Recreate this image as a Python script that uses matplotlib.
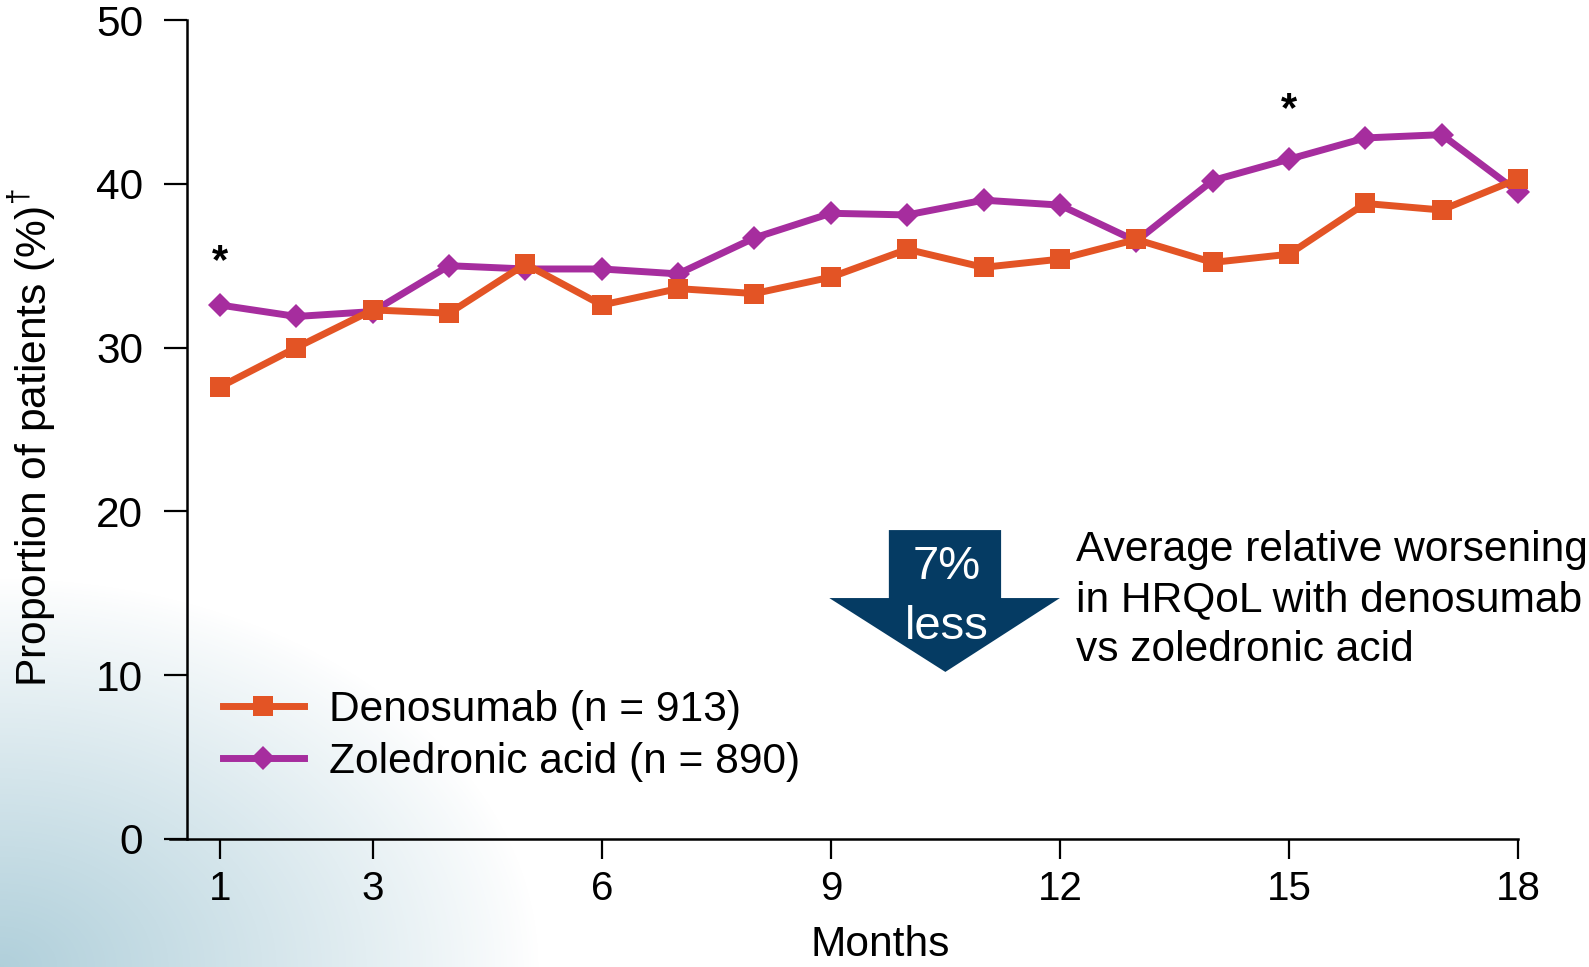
import numpy as np
import matplotlib
matplotlib.use("Agg")
import matplotlib.pyplot as plt
from matplotlib.patches import Polygon

plt.rcParams['font.family'] = ['Liberation Sans', 'DejaVu Sans']
plt.rcParams['mathtext.fontset'] = 'custom'
plt.rcParams['mathtext.rm'] = 'Liberation Sans'

# proportion of patients with worsening HRQoL, by month
months = list(range(1, 19))
denosumab = [27.6, 30.0, 32.3, 32.1, 35.1, 32.6, 33.6, 33.3, 34.3,
             36.0, 34.9, 35.4, 36.6, 35.2, 35.7, 38.8, 38.4, 40.3]
zoledronic = [32.6, 31.9, 32.2, 35.0, 34.8, 34.8, 34.5, 36.7, 38.2,
              38.1, 39.0, 38.7, 36.5, 40.2, 41.5, 42.8, 43.0, 39.5]
den_label = "Denosumab (n = 913)"
zol_label = "Zoledronic acid (n = 890)"
x_ticks = [1, 3, 6, 9, 12, 15, 18]
y_ticks = [0, 10, 20, 30, 40, 50]
# months flagged as significant, and where the star sits
sig_months = [1, 15]
sig_y = [35.2, 44.5]

ORANGE = "#e35425"
PURPLE = "#a62d9e"
NAVY = "#053b63"
FS = 30.6

W, H = 1589, 967
fig = plt.figure(figsize=(W / 100, H / 100), dpi=100)
fig.patch.set_facecolor("white")

# soft teal wash in the lower left corner
bg = fig.add_axes([0, 0, 1, 1], zorder=-10)
yy, xx = np.mgrid[0:H, 0:W]
r = np.sqrt((xx / 540.0) ** 2 + ((H - yy) / 390.0) ** 2)
a = np.clip(1 - r, 0, 1) ** 0.9 * 0.62
img = np.zeros((H, W, 4))
img[..., 0] = 128 / 255
img[..., 1] = 178 / 255
img[..., 2] = 196 / 255
img[..., 3] = a
bg.imshow(img, aspect="auto", extent=(0, W, H, 0))
bg.set_axis_off()

ax = fig.add_axes([170 / W, 1 - 839 / H, (1518 - 170) / W, (839 - 20) / H])
ax.patch.set_alpha(0)

ax.plot(months, denosumab, color=ORANGE, lw=5, marker="s", ms=13.7,
        mew=0, label=den_label, clip_on=False, zorder=4)
ax.plot(months, zoledronic, color=PURPLE, lw=5, marker="D", ms=12.7,
        mew=0, label=zol_label, clip_on=False, zorder=3)

for m, y in zip(sig_months, sig_y):
    ax.text(m, y, "*", fontsize=30, fontweight="bold", ha="center", va="center")

ax.set_xlim(0.345, 18)
ax.set_ylim(0, 50)
ax.set_xticks(x_ticks)
ax.set_yticks(y_ticks)
ax.tick_params(axis="x", direction="out", length=14.4, width=1.6,
               labelsize=29, pad=8)
ax.tick_params(axis="y", direction="out", length=16.5, width=1.6,
               labelsize=30.5, pad=15)

for side in ["top", "right"]:
    ax.spines[side].set_visible(False)
ax.spines["left"].set_position(("data", 0.568))
ax.spines["left"].set_linewidth(1.8)
ax.spines["bottom"].set_linewidth(1.8)

ax.set_ylabel("Proportion of patients (%)$^{\\mathrm{†}}$", fontsize=FS)
ax.yaxis.set_label_coords(-0.083, 0.49)
ax.set_xlabel("Months", fontsize=FS)
ax.xaxis.set_label_coords(0.527, -0.105)

ax.legend(loc="center left", bbox_to_anchor=(223 / W, 1 - 736 / H),
          bbox_transform=fig.transFigure, frameon=False, fontsize=FS,
          handlelength=1.9, handletextpad=0.6, borderpad=0,
          borderaxespad=0, labelspacing=0.28)

# block arrow with the relative difference
arrow = Polygon([(9.76, 18.86), (11.23, 18.86), (11.23, 14.71), (12.0, 14.71),
                 (10.5, 10.2), (8.98, 14.71), (9.76, 14.71)],
                closed=True, facecolor=NAVY, edgecolor="none", zorder=5)
ax.add_patch(arrow)
ax.text(10.52, 16.6, "7%", color="white", fontsize=34, ha="center",
        va="center", zorder=6)
ax.text(10.52, 12.95, "less", color="white", fontsize=34, ha="center",
        va="center", zorder=6)

ax.text(12.21, 14.6,
        "Average relative worsening\nin HRQoL with denosumab\nvs zoledronic acid",
        fontsize=FS, ha="left", va="center", linespacing=1.33)

fig.savefig("out.png", dpi=100)
